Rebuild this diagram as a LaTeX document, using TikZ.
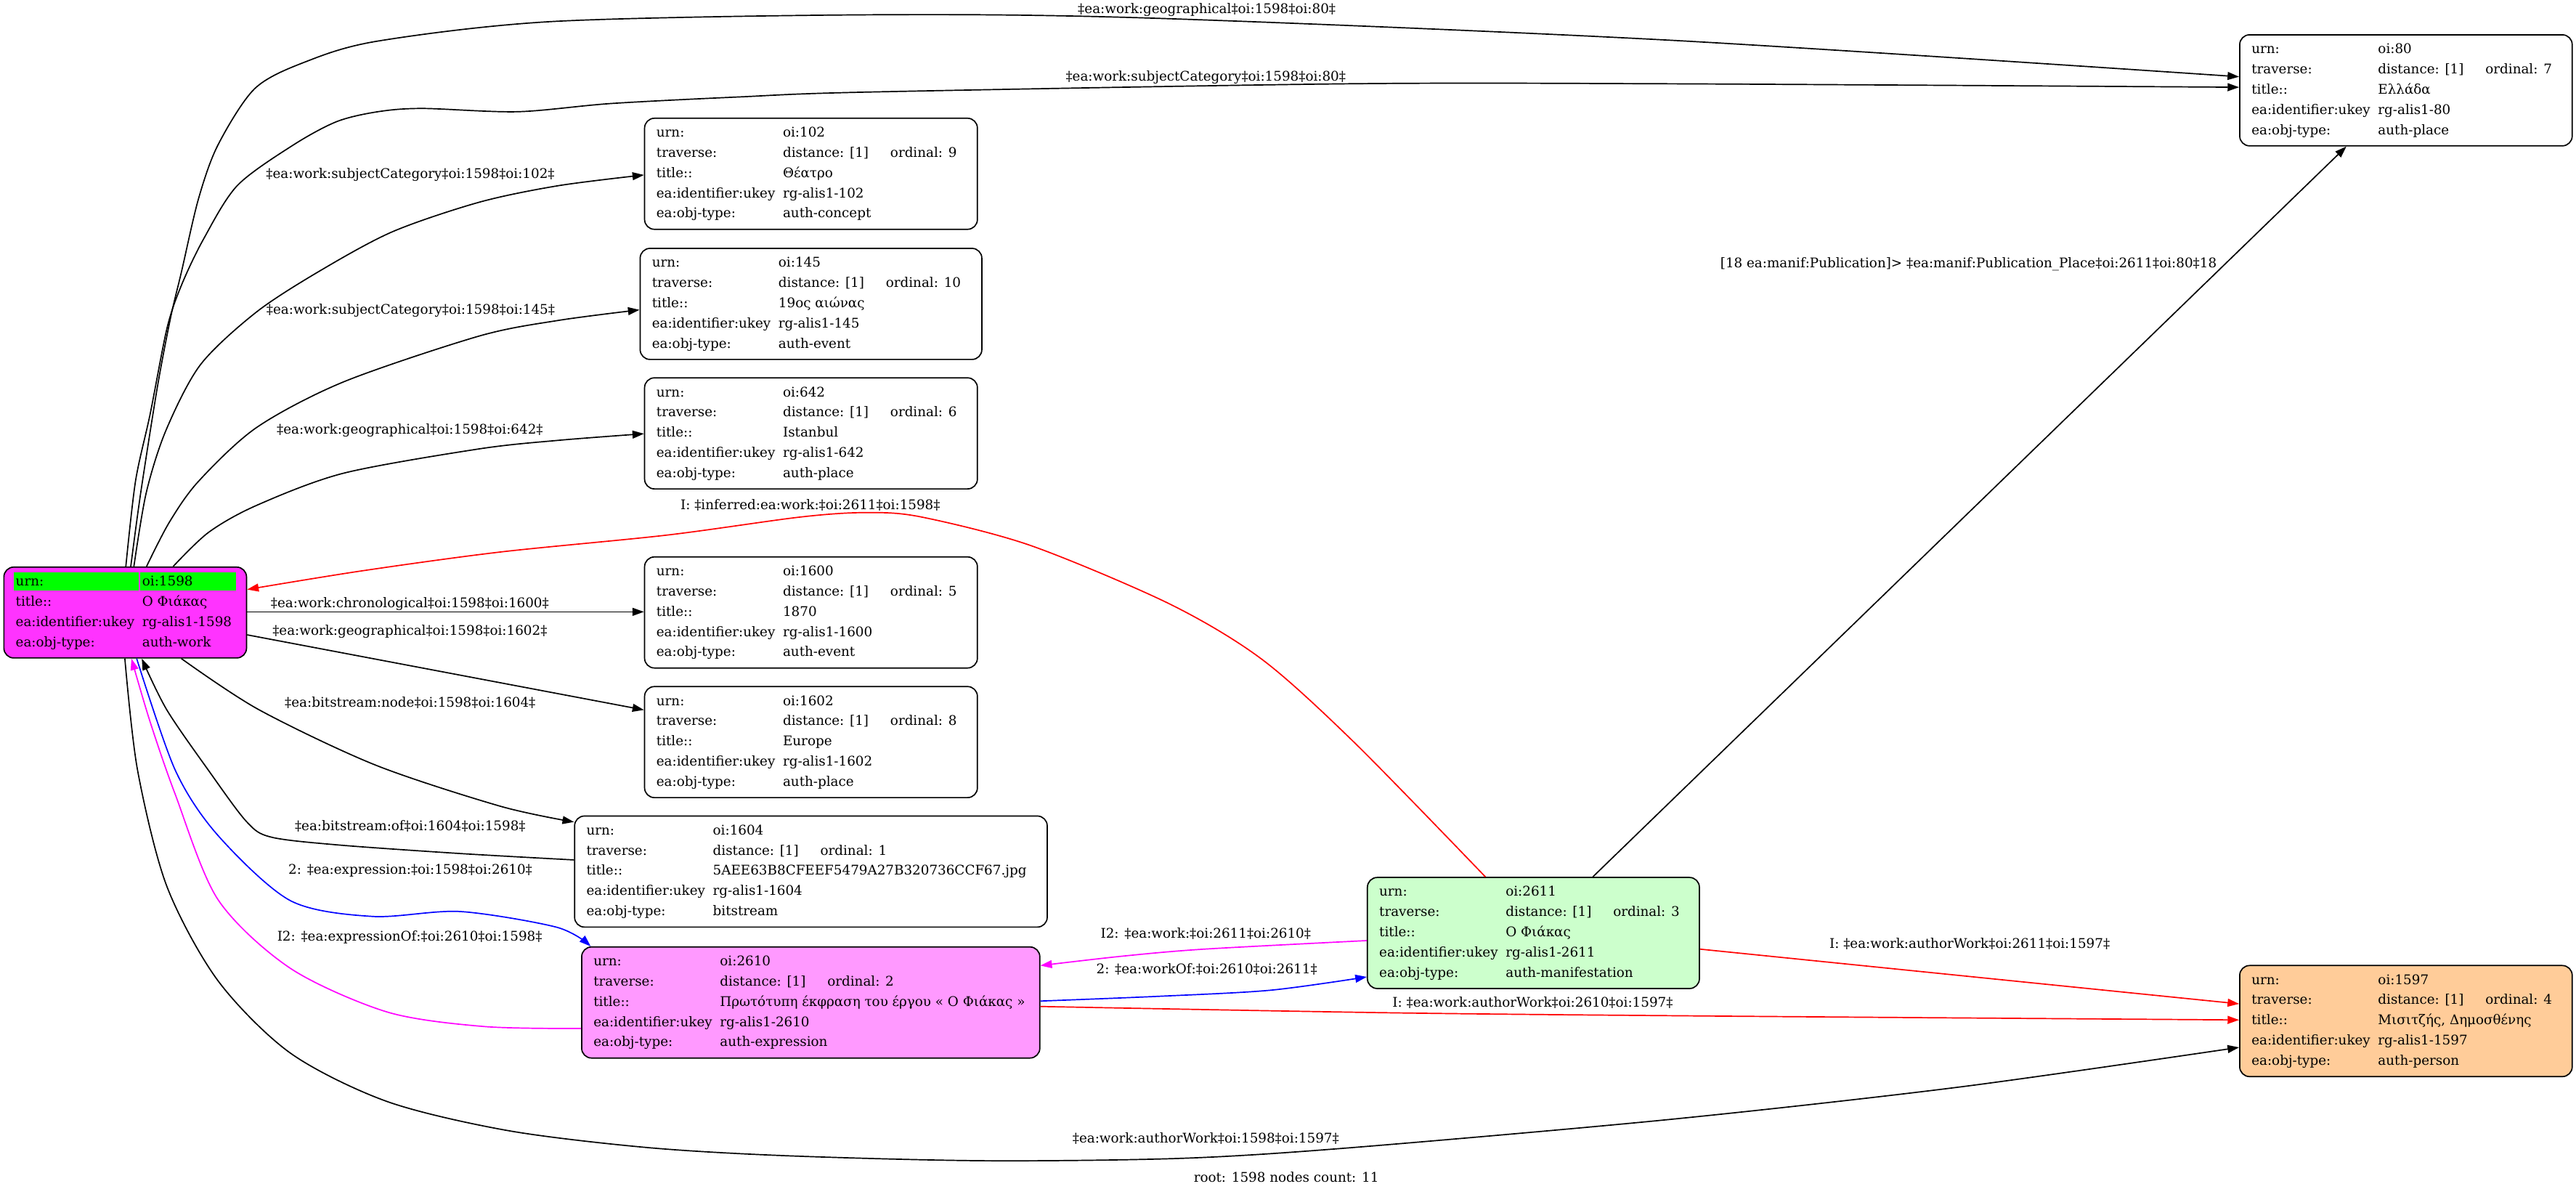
\documentclass[tikz,border=0pt]{standalone}
\usepackage{fontspec}
\setmainfont{DejaVu Serif}
\usetikzlibrary{arrows.meta}
\definecolor{rootfill}{HTML}{FF33FF}
\definecolor{hdr}{HTML}{00FF00}
\definecolor{expfill}{HTML}{FF99FF}
\definecolor{manfill}{HTML}{CCFFCC}
\definecolor{perfill}{HTML}{FFCC99}
\definecolor{mag}{HTML}{FF00FF}
\newcommand\cellL[1]{\makebox[77pt][l]{#1}}
\newcommand\cellV[1]{\makebox[65.4pt][l]{#1}}
\newcommand\fiverows[5]{\begin{tabular}[t]{@{}l@{}}\cellL{urn:}\cellV{#1}\\\cellL{traverse:}\cellV{distance: [1]}ordinal: #2\\\cellL{title::}\cellV{#3}\\\cellL{ea:identifier:ukey}\cellV{#4}\\\cellL{ea:obj-type:}\cellV{#5}\end{tabular}}
\tikzset{
  rbox/.style={draw=black, line width=0.75pt, rounded corners=6pt, inner sep=0pt, anchor=north west, minimum height=67.6pt, minimum width=202.6pt},
  tx/.style={anchor=base west, inner sep=0pt, font=\fontsize{8.1}{12.3}\selectfont},
  lbl/.style={anchor=base, inner sep=0pt, font=\fontsize{8.1}{9.7}\selectfont},
  conn/.style={line width=0.75pt, -{Triangle[length=7pt,width=4.8pt]}},
}
\begin{document}
\begin{tikzpicture}[x=1pt,y=-1pt]
\path[use as bounding box, fill=white] (0,0) rectangle (1568.1,723.3);

% ---------- nodes ----------
\node[rbox, fill=rootfill, minimum width=147.7pt, minimum height=55.3pt] (n1598) at (2,344.8) {};
\fill[hdr] (8.4,348.2) rectangle (84.3,359.3);
\fill[hdr] (85.3,348.2) rectangle (143.6,359.3);
\node[tx] (t1598) at (9.4,356.6) {\begin{tabular}[t]{@{}l@{}}\cellL{urn:}\cellV{oi:1598}\\\cellL{title::}\cellV{Ο Φιάκας}\\\cellL{ea:identifier:ukey}\cellV{rg-alis1-1598}\\\cellL{ea:obj-type:}\cellV{auth-work}\end{tabular}};

\node[rbox] (n102) at (392,71.6) {};
\node[tx] (t102) at (399.4,83.4) {\fiverows{oi:102}{9}{Θέατρο}{rg-alis1-102}{auth-concept}};

\node[rbox, minimum width=208pt] (n145) at (389.3,150.8) {};
\node[tx] (t145) at (396.7,162.6) {\fiverows{oi:145}{10}{19ος αιώνας}{rg-alis1-145}{auth-event}};

\node[rbox] (n642) at (392,229.6) {};
\node[tx] (t642) at (399.4,241.4) {\fiverows{oi:642}{6}{Istanbul}{rg-alis1-642}{auth-place}};

\node[rbox] (n1600) at (392,338.6) {};
\node[tx] (t1600) at (399.4,350.4) {\fiverows{oi:1600}{5}{1870}{rg-alis1-1600}{auth-event}};

\node[rbox] (n1602) at (392,417.5) {};
\node[tx] (t1602) at (399.4,429.3) {\fiverows{oi:1602}{8}{Europe}{rg-alis1-1602}{auth-place}};

\node[rbox, minimum width=287.7pt] (n1604) at (349.4,496.3) {};
\node[tx] (t1604) at (356.8,508.1) {\fiverows{oi:1604}{1}{5AEE63B8CFEEF5479A27B320736CCF67.jpg}{rg-alis1-1604}{bitstream}};

\node[rbox, fill=expfill, minimum width=278.9pt] (n2610) at (353.7,576) {};
\node[tx] (t2610) at (361.1,587.8) {\fiverows{oi:2610}{2}{Πρωτότυπη έκφραση του έργου « Ο Φιάκας »}{rg-alis1-2610}{auth-expression}};

\node[rbox, fill=manfill, minimum width=202.1pt] (n2611) at (832,533.7) {};
\node[tx] (t2611) at (839.4,545.5) {\fiverows{oi:2611}{3}{Ο Φιάκας}{rg-alis1-2611}{auth-manifestation}};

\node[rbox, minimum width=202.4pt] (n80) at (1363,20.8) {};
\node[tx] (t80) at (1370.4,32.6) {\fiverows{oi:80}{7}{Ελλάδα}{rg-alis1-80}{auth-place}};

\node[rbox, fill=perfill, minimum width=202.4pt] (n1597) at (1363,587.3) {};
\node[tx] (t1597) at (1370.4,599.1) {\fiverows{oi:1597}{4}{Μισιτζής, Δημοσθένης}{rg-alis1-1597}{auth-person}};

% ---------- connectors ----------
% 1598 -> 80 geographical
\draw[conn] plot[smooth] coordinates {(79.6,0 |- n1598.north) (85.5,301) (95.8,235.6) (103.9,193.1) (110.5,165.3) (120.8,121.1) (132.6,88.4) (155,54) (185,38) (230,25) (338,13) (530,9) (700,11) (1017,24.5) (n80.west |- 0,46.7)};
% 1598 -> 80 subjectCategory
\draw[conn] plot[smooth] coordinates {(76.6,0 |- n1598.north) (82.5,292.8) (91.4,252) (101.7,199.6) (110.5,173.5) (123.8,145.7) (144.4,113) (178.3,88.4) (205,74) (230,68) (257,66) (315,68) (372,63) (450,59) (530,56) (820,51) (1017,51) (n80.west |- 0,53.1)};
% 1598 -> 102
\draw[conn] plot[smooth] coordinates {(81.5,0 |- n1598.north) (89,300) (101,262) (122,222) (156,190) (194.5,165) (239,141) (292,123) (340,113) (n102.west |- 0,106.5)};
% 1598 -> 145
\draw[conn] plot[smooth] coordinates {(89.2,0 |- n1598.north) (103,318) (120.8,293) (156.2,260.2) (209.2,232.4) (291.8,204.5) (340,195) (n145.west |- 0,188.6)};
% 1598 -> 642
\draw[conn] plot[smooth] coordinates {(105.4,0 |- n1598.north) (127,324) (156.2,307.6) (209.2,288) (291.8,273.2) (340,268) (n642.west |- 0,264)};
% 1598 -> 1600
\draw[conn] (n1598.east |- 0,372.4) -- (n1600.west |- 0,372.4);
% 1598 -> 1602
\draw[conn] (n1598.east |- 0,386.4) -- (n1602.west |- 0,432.1);
% 1598 -> 1604
\draw[conn] plot[smooth] coordinates {(110.4,0 |- n1598.south) (157.3,431.8) (228.4,465.6) (304.5,490.7) (n1604.north west |- 0,500.3)};
% 1604 -> 1598
\draw[conn] plot[smooth] coordinates {(n1604.west |- 0,523.4) (280,519.5) (206,514.3) (165,509.5) (150,500) (127,469) (101.5,432) (86.3,0 |- n1598.south)};
% 1598 -> 2610 (blue)
\draw[conn, blue] plot[smooth] coordinates {(83.2,0 |- n1598.south) (106.6,468.6) (132.6,508.4) (176.8,548.2) (226.9,557.8) (280,554.8) (339,564.4) (359.6,0 |- n2610.north)};
% 2610 -> 1598 (magenta)
\draw[conn, mag] plot[smooth] coordinates {(n2610.west |- 0,626) (294.7,624.8) (235.8,616) (176.8,589.4) (132.6,547.4) (106.6,483.3) (91.3,439.1) (80,0 |- n1598.south)};
% 1598 -> 1597
\draw[conn] plot[smooth] coordinates {(76,0 |- n1598.south) (83.7,468.6) (101.5,539.3) (132.6,596.8) (176.8,641) (235.8,670.5) (309.5,688.2) (394.4,698.5) (480,703.5) (600,706.5) (720,705) (823,698.5) (1017,681.3) (1193,661.6) (n1597.west |- 0,637.5)};
% 2611 -> 1598 (red, inferred)
\draw[conn, red] plot[smooth] coordinates {(904.2,0 |- n2611.north) (824.6,452.1) (768.3,401.4) (711.8,367.5) (627.3,332) (560,314.5) (525.8,312) (486.3,314.8) (405.9,325.7) (304.4,336) (220,347.5) (n1598.east |- 0,358.8)};
% 2611 -> 80
\draw[conn] (969.6,0 |- n2611.north) -- (1428.3,0 |- n80.south);
% 2611 -> 2610 (magenta)
\draw[conn, mag] plot[smooth] coordinates {(n2611.west |- 0,572.5) (733,577.7) (683,582) (n2610.east |- 0,587.7)};
% 2610 -> 2611 (blue)
\draw[conn, blue] plot[smooth] coordinates {(n2610.east |- 0,609.3) (705.6,606.4) (773.4,602.7) (n2611.west |- 0,594.6)};
% 2610 -> 1597 (red)
\draw[conn, red] plot[smooth] coordinates {(n2610.east |- 0,612.6) (850,616.5) (1052,618.5) (n1597.west |- 0,620.8)};
% 2611 -> 1597 (red)
\draw[conn, red] (n2611.east |- 0,577.7) -- (n1597.west |- 0,611);

% ---------- labels ----------
\node[lbl] (l1) at (734.6,8.1) {‡ea:work:geographical‡oi:1598‡oi:80‡};
\node[lbl] (l2) at (734,49.4) {‡ea:work:subjectCategory‡oi:1598‡oi:80‡};
\node[lbl] (l3) at (249.8,108.6) {‡ea:work:subjectCategory‡oi:1598‡oi:102‡};
\node[lbl] (l4) at (250,191.4) {‡ea:work:subjectCategory‡oi:1598‡oi:145‡};
\node[lbl] (l5) at (249.5,264) {‡ea:work:geographical‡oi:1598‡oi:642‡};
\node[lbl] (l6) at (249.5,369.9) {‡ea:work:chronological‡oi:1598‡oi:1600‡};
\node[lbl] (l7) at (249.5,386.8) {‡ea:work:geographical‡oi:1598‡oi:1602‡};
\node[lbl] (l8) at (249.7,430.3) {‡ea:bitstream:node‡oi:1598‡oi:1604‡};
\node[lbl] (l9) at (249.7,505.5) {‡ea:bitstream:of‡oi:1604‡oi:1598‡};
\node[lbl] (l10) at (249.8,532) {2: ‡ea:expression:‡oi:1598‡oi:2610‡};
\node[lbl] (l11) at (249.4,572.8) {I2: ‡ea:expressionOf:‡oi:2610‡oi:1598‡};
\node[lbl] (l12) at (734,695.6) {‡ea:work:authorWork‡oi:1598‡oi:1597‡};
\node[lbl] (l13) at (734,571) {I2: ‡ea:work:‡oi:2611‡oi:2610‡};
\node[lbl] (l14) at (734.6,592.4) {2: ‡ea:workOf:‡oi:2610‡oi:2611‡};
\node[lbl] (l15) at (933,613) {I: ‡ea:work:authorWork‡oi:2610‡oi:1597‡};
\node[lbl] (l16) at (1199,577) {I: ‡ea:work:authorWork‡oi:2611‡oi:1597‡};
\node[lbl] (l17) at (1198.3,162.9) {[18 ea:manif:Publication]> ‡ea:manif:Publication\_Place‡oi:2611‡oi:80‡18};
\node[lbl] (l18) at (493.3,310.2) {I: ‡inferred:ea:work:‡oi:2611‡oi:1598‡};
\node[lbl] (cap) at (783,719.5) {root: 1598 nodes count: 11};
\end{tikzpicture}
\end{document}
